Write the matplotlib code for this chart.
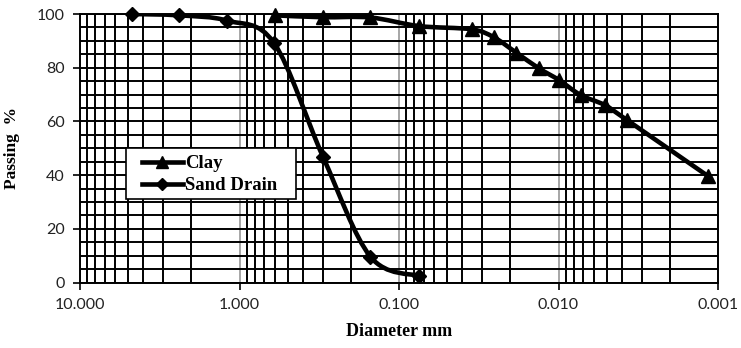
import numpy as np
import matplotlib
matplotlib.use('Agg')
import matplotlib.pyplot as plt
from matplotlib.path import Path
from matplotlib.patches import PathPatch, Rectangle
from matplotlib.lines import Line2D
from matplotlib.ticker import FixedLocator, LogLocator, NullFormatter

# data
clay_d = [0.6, 0.30, 0.151, 0.0748, 0.0351, 0.0254, 0.0184, 0.0133, 0.00993, 0.00726, 0.00514, 0.00372, 0.00116]
clay_p = [99.5, 98.8, 98.7, 95.5, 94.3, 91.3, 85.6, 79.8, 75.4, 69.8, 66.1, 60.5, 39.7]
sand_d = [4.75, 2.39, 1.19, 0.609, 0.30, 0.151, 0.0748]
sand_p = [100.0, 99.5, 97.5, 89.3, 46.9, 9.6, 2.4]
x_ticks = [10, 1, 0.1, 0.01, 0.001]
x_labels = ["10.000", "1.000", "0.100", "0.010", "0.001"]

serif = "Liberation Serif"
sans = "Lato"


def smooth_path(xs, ys):
    # excel-style smoothed line: catmull-rom bezier in (log x, y) space
    lx = np.log10(xs)
    y = np.asarray(ys, float)
    n = len(lx)
    verts = [(xs[0], y[0])]
    codes = [Path.MOVETO]
    for i in range(n - 1):
        i0 = max(i - 1, 0)
        i3 = min(i + 2, n - 1)
        c1 = (lx[i] + (lx[i + 1] - lx[i0]) / 6, y[i] + (y[i + 1] - y[i0]) / 6)
        c2 = (lx[i + 1] - (lx[i3] - lx[i]) / 6, y[i + 1] - (y[i3] - y[i]) / 6)
        verts += [(10 ** c1[0], c1[1]), (10 ** c2[0], c2[1]), (xs[i + 1], y[i + 1])]
        codes += [Path.CURVE4] * 3
    return Path(verts, codes)


W, H = 741, 348
fig = plt.figure(figsize=(W / 100, H / 100), dpi=100)
ax = fig.add_axes([80 / W, 1 - 282.5 / H, 638 / W, 268.5 / H])
ax.set_xscale('log')
ax.set_xlim(10, 0.001)
ax.set_ylim(0, 100)

# grid
ax.xaxis.set_major_locator(FixedLocator(x_ticks))
ax.set_xticklabels(x_labels)
ax.xaxis.set_minor_locator(LogLocator(base=10, subs=np.arange(2, 10)))
ax.xaxis.set_minor_formatter(NullFormatter())
ax.set_yticks(np.arange(0, 101, 20))
ax.set_yticks(np.arange(0, 101, 5), minor=True)
ax.grid(True, which='minor', axis='x', color='black', lw=1.4)
ax.grid(True, which='major', axis='x', color='#a6a6a6', lw=1.4)
ax.grid(True, which='both', axis='y', color='black', lw=1.4)
ax.tick_params(axis='x', which='minor', length=0)
ax.tick_params(axis='y', which='minor', length=0)
ax.tick_params(which='major', length=5, width=1.2, color='black', labelsize=11.5, pad=6)
for lab in ax.get_xticklabels() + ax.get_yticklabels():
    lab.set_fontfamily(sans)
    lab.set_color('#222222')
for s in ax.spines.values():
    s.set_color('black')
    s.set_linewidth(1.4)

for xs, ys, mk, ms in [(clay_d, clay_p, '^', 10), (sand_d, sand_p, 'D', 7)]:
    ax.add_patch(PathPatch(smooth_path(xs, ys), fill=False, edgecolor='black', lw=3.3, zorder=4))
    ax.plot(xs, ys, ls='none', marker=mk, ms=ms, color='black', zorder=5, clip_on=False)

# legend box (fixed size like the excel one), entries drawn by legend without frame
fig.patches.append(Rectangle((126 / W, 1 - 199.3 / H), 170 / W, 51 / H,
                             transform=fig.transFigure, facecolor='white',
                             edgecolor='black', lw=1.2, zorder=5))
handles = [Line2D([], [], color='black', lw=3.3, marker='^', ms=9),
           Line2D([], [], color='black', lw=3.3, marker='D', ms=6)]
leg = fig.legend(handles, ['Clay', 'Sand Drain'], loc='upper left',
                 bbox_to_anchor=(141.5 / W, 1 - 155 / H), borderaxespad=0,
                 frameon=False, handlelength=2.2, borderpad=0, labelspacing=0.26,
                 handletextpad=0.1,
                 prop={'family': serif, 'weight': 'bold', 'size': 13.5})
leg.set_zorder(6)

ax.set_xlabel('Diameter mm', family=serif, weight='bold', fontsize=13, labelpad=8)
ax.set_ylabel('Passing  %', family=serif, weight='bold', fontsize=12.5, labelpad=12)

fig.savefig('out.png', dpi=100)
